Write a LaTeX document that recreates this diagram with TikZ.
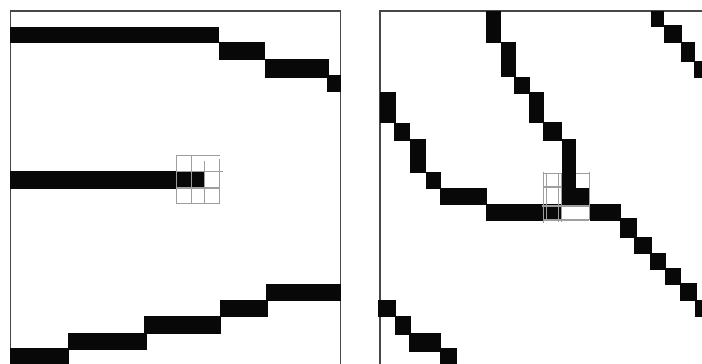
\documentclass[tikz,border=0pt]{standalone}
\begin{document}
\begin{tikzpicture}[x=1pt,y=-1pt,
  blk/.style={fill=black!97},
  frame/.style={draw=black!72,line width=1.6pt},
  gridln/.style={draw=black!38,line width=1.4pt}]
\useasboundingbox (0,0) rectangle (702,364);
\fill[white] (0,0) rectangle (702,364);
\clip (0,0) rectangle (702,364);
% ---------------- left panel ----------------
\draw[frame] (10.3,366) -- (10.3,10.7) -- (340.5,10.7) -- (340.5,366);
% top stripe
\fill[blk] (10,27.3) rectangle (219,42.7);
\fill[blk] (218.5,41.7) rectangle (265,60.3);
\fill[blk] (264.5,59.3) rectangle (329.3,77.7);
\fill[blk] (327,75) rectangle (340.5,91.7);
% middle stripe
\fill[blk] (10,171) rectangle (205,188.7);
% bottom stripe
\fill[blk] (10,348.3) rectangle (69.3,366);
\fill[blk] (68,333.3) rectangle (146.7,350);
\fill[blk] (144,315.7) rectangle (220.7,334.3);
\fill[blk] (220,300) rectangle (268.3,317.3);
\fill[blk] (265.7,284.3) rectangle (340.5,301);
% left grid
\draw[gridln] (176.3,155.3) -- (219.7,155.3);
\draw[gridln] (176.3,171.3) -- (223,171.3);
\draw[gridln] (176.3,188) -- (219.7,188);
\draw[gridln] (176.3,203.5) -- (219.7,203.5);
\draw[gridln] (176.3,155.3) -- (176.3,203.5);
\draw[gridln] (191.3,155.3) -- (191.3,203.5);
\draw[gridln] (204.7,160.7) -- (204.7,203.5);
\draw[gridln] (219.7,158.7) -- (219.7,203.5);
% ---------------- right panel ----------------
\draw[frame] (380,366) -- (380,10.7) -- (704,10.7);
% left descending stripe
\fill[blk] (380,92.3) rectangle (396,123.3);
\fill[blk] (394.3,123) rectangle (410,140.7);
\fill[blk] (409.5,139) rectangle (426,173.3);
\fill[blk] (425.5,172.3) rectangle (440.7,189.3);
\fill[blk] (440,188.3) rectangle (486.7,205);
\fill[blk] (485.7,204) rectangle (561.7,220.7);
% right grid
\draw[gridln] (542.7,173.5) -- (589.3,173.5);
\draw[gridln] (542.7,187) -- (561.7,187);
\draw[gridln] (541.7,205.8) -- (589.3,205.8);
\draw[gridln] (542.7,220) -- (589.3,220);
\draw[gridln] (543.3,171.7) -- (543.3,222.7);
\draw[gridln] (546.5,173.5) -- (546.5,220);
\draw[gridln] (558.3,173.5) -- (558.3,222);
\draw[gridln] (561.3,173.5) -- (561.3,222);
\draw[gridln] (589.3,171.7) -- (589.3,220);
% central descending stripe
\fill[blk] (485.7,10.7) rectangle (500.7,42.7);
\fill[blk] (500.5,41.7) rectangle (515.7,77.3);
\fill[blk] (514.3,76.7) rectangle (530,94);
\fill[blk] (529,92.3) rectangle (544.3,122.7);
\fill[blk] (543.3,121.7) rectangle (562.3,140.7);
\fill[blk] (561.7,139.3) rectangle (575.7,188);
\fill[blk] (561.7,187.7) rectangle (588.5,205);
\fill[blk] (590,204) rectangle (620.7,220.7);
\fill[blk] (620,217.7) rectangle (636.7,238.3);
\fill[blk] (634.3,237.3) rectangle (651.7,254);
\fill[blk] (650,252.7) rectangle (666,270);
\fill[blk] (665,268.3) rectangle (680.7,285);
\fill[blk] (680,283.3) rectangle (696.7,301);
\fill[blk] (695,300) rectangle (704,316.7);
% top-right stripe
\fill[blk] (650.7,10.7) rectangle (664.3,26.7);
\fill[blk] (664,25.3) rectangle (682.3,43.3);
\fill[blk] (681,41.7) rectangle (695,62.3);
\fill[blk] (694,60.7) rectangle (704,77.7);
% bottom-left stripe
\fill[blk] (378.3,300) rectangle (395.7,317.3);
\fill[blk] (395,315.7) rectangle (410.7,335);
\fill[blk] (409.3,333.3) rectangle (441,351.7);
\fill[blk] (440,348.3) rectangle (457.3,366);
\end{tikzpicture}
\end{document}
